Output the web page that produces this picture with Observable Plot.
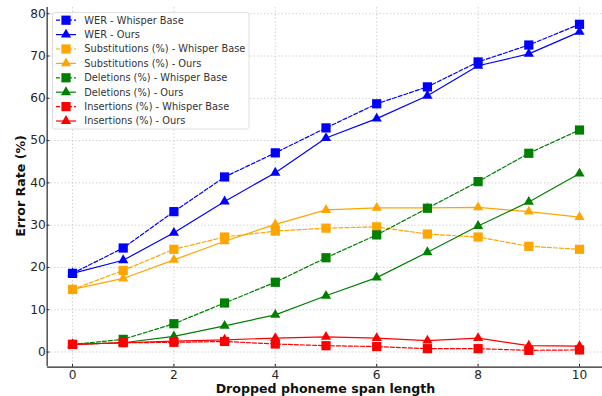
<!DOCTYPE html>
<html>
<head>
<meta charset="utf-8">
<script src="https://cdn.jsdelivr.net/npm/d3@7"></script>
<script src="https://cdn.jsdelivr.net/npm/@observablehq/plot@0.6"></script>
<style>
  html, body { margin: 0; padding: 0; background: #fff; }
  #chart svg { display: block; }
</style>
</head>
<body>
<div id="chart"></div>
<script>
// Dropped phoneme span length (x) and error rates in percent
const spans = [0, 1, 2, 3, 4, 5, 6, 7, 8, 9, 10];
const werBase = [18.6, 24.6, 33.2, 41.4, 47.1, 53.0, 58.7, 62.7, 68.6, 72.6, 77.5];
const werOurs = [18.6, 21.7, 28.2, 35.6, 42.4, 50.6, 55.2, 60.6, 67.7, 70.5, 75.7];
const subBase = [14.8, 19.3, 24.3, 27.2, 28.6, 29.3, 29.6, 27.9, 27.2, 25.0, 24.3];
const subOurs = [14.8, 17.4, 21.8, 26.2, 30.2, 33.6, 34.1, 34.1, 34.2, 33.2, 31.9];
const delBase = [1.8, 3.0, 6.7, 11.6, 16.5, 22.3, 27.7, 34.0, 40.3, 47.0, 52.5];
const delOurs = [1.8, 2.2, 3.7, 6.2, 8.8, 13.3, 17.6, 23.6, 29.8, 35.5, 42.2];
const insBase = [1.8, 2.2, 2.3, 2.5, 1.9, 1.5, 1.3, 0.8, 0.8, 0.4, 0.5];
const insOurs = [1.8, 2.2, 2.6, 2.9, 3.3, 3.6, 3.3, 2.7, 3.3, 1.5, 1.4];

const xTicks = [0, 2, 4, 6, 8, 10];
const yTicks = [0, 10, 20, 30, 40, 50, 60, 70, 80];
const xTitle = "Dropped phoneme span length";
const yTitle = "Error Rate (%)";

// One entry per plotted series, in drawing order
const series = [
  {label: "WER - Whisper Base", values: werBase, color: "#0000ff", base: true},
  {label: "WER - Ours", values: werOurs, color: "#0000ff", base: false},
  {label: "Substitutions (%) - Whisper Base", values: subBase, color: "#ffa500", base: true},
  {label: "Substitutions (%) - Ours", values: subOurs, color: "#ffa500", base: false},
  {label: "Deletions (%) - Whisper Base", values: delBase, color: "#008000", base: true},
  {label: "Deletions (%) - Ours", values: delOurs, color: "#008000", base: false},
  {label: "Insertions (%) - Whisper Base", values: insBase, color: "#ff0000", base: true},
  {label: "Insertions (%) - Ours", values: insOurs, color: "#ff0000", base: false}
];

const DASH = "4,2";
const SQ_R = 5.2, TRI_R = 3.8;
const X0 = -0.5, X1 = 10.5, Y0 = -3.56, Y1 = 81.4;

const seriesMarks = series.flatMap(s => {
  const rows = spans.map((x, i) => ({x, y: s.values[i]}));
  return [
    Plot.line(rows, {x: "x", y: "y", stroke: s.color, strokeWidth: 1.2,
      strokeDasharray: s.base ? DASH : null}),
    Plot.dot(rows, {x: "x", y: "y", fill: s.color, stroke: "none",
      symbol: s.base ? "square" : "triangle", r: s.base ? SQ_R : TRI_R})
  ];
});

const AXIS = "#262626";

const chart = Plot.plot({
  width: 602,
  height: 396,
  marginLeft: 47,
  marginTop: 7,
  marginBottom: 30,
  marginRight: 0,
  style: {fontFamily: "DejaVu Sans, sans-serif", fontSize: "12.2px", color: AXIS, background: "#fff", overflow: "hidden"},
  x: {domain: [X0, X1], range: [46.65, 604.35]},
  y: {domain: [Y0, Y1], range: [366.6, 7.3]},
  marks: [
    Plot.gridX(xTicks, {stroke: "#b0b0b0", strokeOpacity: 0.7, strokeDasharray: "1.5,2", strokeWidth: 0.8}),
    Plot.gridY(yTicks, {stroke: "#b0b0b0", strokeOpacity: 0.7, strokeDasharray: "1.5,2", strokeWidth: 0.8}),
    // tick labels; the short tick marks point inward from the spines
    Plot.axisX(xTicks, {tickSize: 0, tickPadding: 3.4, label: null}),
    Plot.axisY(yTicks, {tickSize: 0, tickPadding: 1.8, label: null}),
    Plot.ruleX(xTicks, {y1: Y0, y2: Y0 + 0.65, stroke: AXIS, strokeWidth: 1}),
    Plot.ruleY(yTicks, {x1: X0, x2: X0 + 0.055, stroke: AXIS, strokeWidth: 1}),
    Plot.ruleX([X0], {stroke: AXIS, strokeWidth: 1.2}),
    Plot.ruleY([Y0], {stroke: AXIS, strokeWidth: 1.2}),
    ...seriesMarks
  ]
});

document.getElementById("chart").appendChild(chart);

const svg = d3.select(chart);

// Axis titles
svg.append("text")
  .attr("x", 325.5).attr("y", 392.5)
  .attr("text-anchor", "middle")
  .attr("font-family", "DejaVu Sans, sans-serif")
  .attr("font-weight", "bold").attr("font-size", 12.6)
  .attr("fill", "#111")
  .text(xTitle);

svg.append("text")
  .attr("transform", "translate(24.5,186) rotate(-90)")
  .attr("text-anchor", "middle")
  .attr("font-family", "DejaVu Sans, sans-serif")
  .attr("font-weight", "bold").attr("font-size", 12.6)
  .attr("fill", "#111")
  .text(yTitle);

// Legend box in the upper-left corner
const lg = svg.append("g")
  .attr("font-family", "DejaVu Sans, sans-serif")
  .attr("font-size", 9.8)
  .attr("text-anchor", "start");
lg.append("rect")
  .attr("x", 52.5).attr("y", 12.5).attr("width", 196.5).attr("height", 116.5)
  .attr("rx", 2.5).attr("fill", "#fff").attr("fill-opacity", 0.85)
  .attr("stroke", "#d6d6d6").attr("stroke-width", 0.8);

series.forEach((s, i) => {
  const cy = 20.2 + i * 14.4;
  lg.append("line")
    .attr("x1", 56).attr("x2", 76).attr("y1", cy).attr("y2", cy)
    .attr("stroke", s.color).attr("stroke-width", 1.2)
    .attr("stroke-dasharray", s.base ? DASH : null);
  const sym = s.base ? d3.symbolSquare : d3.symbolTriangle;
  const r = s.base ? SQ_R : TRI_R;
  lg.append("path")
    .attr("d", d3.symbol(sym, Math.PI * r * r)())
    .attr("transform", `translate(66,${cy})`)
    .attr("fill", s.color);
  lg.append("text")
    .attr("x", 84.3).attr("y", cy).attr("dy", "0.35em")
    .attr("text-anchor", "start")
    .attr("fill", "#333")
    .text(s.label);
});
</script>
</body>
</html>
